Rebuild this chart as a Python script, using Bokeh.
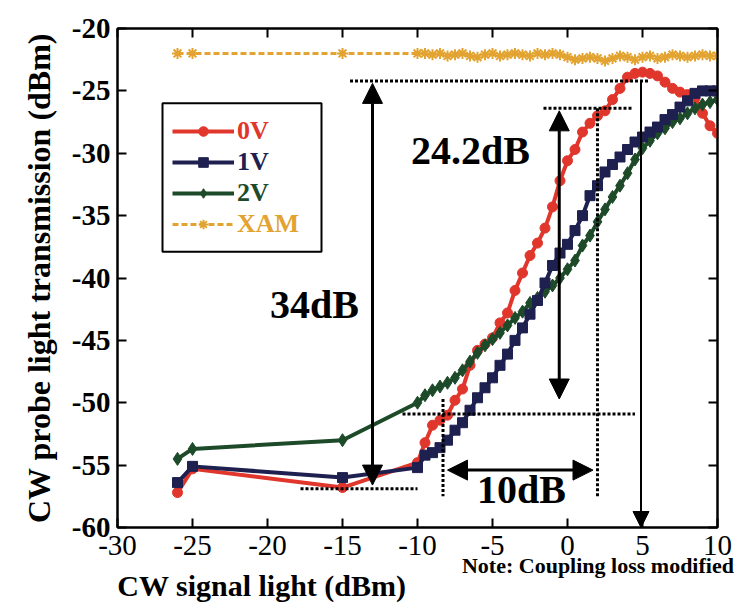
from bokeh.plotting import figure
from bokeh.models import (Legend, LegendItem, LinearAxis, Label, Arrow, NormalHead,
                          BoxAnnotation, FixedTicker, CustomJSTickFormatter, ColumnDataSource)
from bokeh.embed import file_html
from bokeh.resources import INLINE

# ---------------- data ----------------
signal_dbm = [-26, -25, -15, -10, -9.5, -9, -8.5, -8, -7.5, -7, -6.5, -6, -5.5, -5, -4.5, -4,
              -3.5, -3, -2.5, -2, -1.5, -1, -0.5, 0, 0.5, 1, 1.5, 2, 2.5, 3, 3.5, 4, 4.5, 5,
              5.5, 6, 6.5, 7, 7.5, 8, 8.5, 9, 9.5, 10]

probe_0v = [-57.2, -55.3, -56.8, -54.8, -53.2, -51.8, -51.4, -51.0, -49.8, -48.9, -47.0, -45.8,
            -45.3, -44.8, -43.6, -42.8, -41.0, -39.6, -38.2, -37.2, -36.0, -34.3, -32.2, -30.6,
            -29.7, -28.3, -27.6, -27.0, -26.6, -25.7, -24.8, -23.9, -23.6, -23.5, -23.6, -23.8,
            -24.3, -24.8, -25.1, -25.3, -25.6, -26.8, -27.8, -28.4]

probe_1v = [-56.4, -55.1, -56.0, -55.2, -54.2, -54.0, -53.6, -53.0, -52.2, -51.6, -50.6, -49.6,
            -48.8, -48.0, -47.0, -46.1, -45.0, -44.0, -42.9, -41.8, -40.4, -39.0, -38.0, -37.3,
            -36.2, -35.0, -33.4, -32.6, -31.5, -30.9, -30.3, -29.7, -29.1, -28.7, -28.3, -27.9,
            -27.3, -26.9, -26.3, -25.8, -25.2, -25.0, -25.0, -25.0]

probe_2v = [-54.5, -53.7, -53.0, -50.0, -49.4, -49.0, -48.7, -48.4, -48.0, -47.4, -46.7, -46.0,
            -45.4, -44.9, -44.4, -43.8, -43.2, -42.7, -42.0, -41.6, -41.1, -40.6, -40.0, -39.3,
            -38.6, -37.4, -36.6, -35.5, -34.5, -33.5, -32.6, -31.6, -30.5, -29.6, -29.0, -28.4,
            -28.0, -27.5, -27.2, -26.8, -26.4, -26.1, -25.9, -25.7]

probe_xam = [-22.0, -22.0, -22.0, -22.0, -22.0, -22.1, -22.0, -22.2, -22.1, -22.0, -22.2, -22.3,
             -22.1, -22.0, -22.2, -22.1, -22.0, -22.1, -22.2, -22.0, -22.1, -22.0, -22.1, -22.3,
             -22.5, -22.4, -22.3, -22.4, -22.6, -22.4, -22.2, -22.3, -22.5, -22.3, -22.2, -22.4,
             -22.3, -22.1, -22.2, -22.3, -22.2, -22.1, -22.2, -22.2]

x_ticks = [-30, -25, -20, -15, -10, -5, 0, 5, 10]
y_ticks = [-60, -55, -50, -45, -40, -35, -30, -25, -20]

x_title = "CW signal light (dBm)"
y_title = "CW probe light transmission (dBm)"
note_text = "Note: Coupling loss modified"

# annotation geometry (dB values)
dotted_x0 = [-14.5, -1.6, -17.8, -11.0, -8.3, 2.0]
dotted_x1 = [5.5, 4.4, -10.0, 4.5, -8.3, 2.0]
dotted_y0 = [-24.2, -26.4, -56.9, -50.9, -49.7, -26.4]
dotted_y1 = [-24.2, -26.4, -56.9, -50.9, -57.5, -57.6]

SERIF = "Liberation Serif"
RED, NAVY, GREEN, ORANGE = "#e0362c", "#1e2050", "#1d4a29", "#e2a330"

p = figure(width=734, height=611, x_range=(-30, 10), y_range=(-60, -20),
           output_backend="svg", toolbar_location=None,
           min_border_left=117, min_border_right=17, min_border_top=28, min_border_bottom=84)
p.background_fill_color = "white"
p.border_fill_color = "white"
p.grid.visible = False
p.outline_line_color = "black"
p.outline_line_width = 2

plain_fmt = CustomJSTickFormatter(code="return tick.toString()")

def style_axis(ax, ticks, labels=True, bold=False, size="29px"):
    ax.ticker = FixedTicker(ticks=ticks, minor_ticks=[])
    ax.major_tick_in = 9
    ax.major_tick_out = 0
    ax.minor_tick_in = 0
    ax.minor_tick_out = 0
    ax.axis_line_color = "black"
    ax.axis_line_width = 2
    ax.major_tick_line_color = "black"
    ax.major_tick_line_width = 2
    ax.major_label_text_font = SERIF
    ax.major_label_text_color = "black"
    ax.major_label_text_font_size = size
    ax.major_label_text_font_style = "bold" if bold else "normal"
    if labels:
        ax.formatter = plain_fmt
    else:
        ax.formatter = CustomJSTickFormatter(code="return ''")
        ax.major_label_text_font_size = "1px"
        ax.major_label_standoff = 0

xb = p.below[0]
yl = p.left[0]
style_axis(xb, x_ticks, size="29px")
xb.major_label_standoff = 8
style_axis(yl, y_ticks, bold=True, size="29px")
yl.major_label_standoff = 7
yl.axis_label = y_title
yl.axis_label_text_font = SERIF
yl.axis_label_text_font_style = "bold"
yl.axis_label_text_font_size = "32px"
yl.axis_label_text_color = "black"
yl.axis_label_standoff = 12

xt = LinearAxis()
style_axis(xt, x_ticks, labels=False)
p.add_layout(xt, "above")
yr = LinearAxis()
style_axis(yr, y_ticks, labels=False)
p.add_layout(yr, "right")

# text rows below the axis (note, then axis title), carried by label-only axes
def text_axis(text, at, size, standoff):
    ax = LinearAxis(ticker=FixedTicker(ticks=[at], minor_ticks=[]),
                    formatter=CustomJSTickFormatter(code="return %r" % text))
    ax.axis_line_alpha = 0
    ax.major_tick_in = 0
    ax.major_tick_out = 0
    ax.minor_tick_in = 0
    ax.minor_tick_out = 0
    ax.major_label_text_font = SERIF
    ax.major_label_text_font_style = "bold"
    ax.major_label_text_font_size = size
    ax.major_label_text_color = "black"
    ax.major_label_standoff = standoff
    p.add_layout(ax, "below")

text_axis(note_text, 2.03, "22px", -5)
text_axis(x_title, -20.37, "30px", -12)

# ---------------- series ----------------
src = ColumnDataSource(dict(x=signal_dbm, v0=probe_0v, v1=probe_1v, v2=probe_2v, xam=probe_xam))

xam_l = p.line("x", "xam", source=src, line_color=ORANGE, line_width=3, line_dash="6 3")
xam_s = p.scatter("x", "xam", source=src, marker="asterisk", size=11, line_color=ORANGE, line_width=2)
r0_l = p.line("x", "v0", source=src, line_color=RED, line_width=4)
r0_s = p.scatter("x", "v0", source=src, marker="circle", size=10, fill_color=RED, line_color=RED)
g_l = p.line("x", "v2", source=src, line_color=GREEN, line_width=4)
g_s = p.scatter("x", "v2", source=src, marker="diamond", size=13, fill_color=GREEN, line_color=GREEN)
b_l = p.line("x", "v1", source=src, line_color=NAVY, line_width=4)
b_s = p.scatter("x", "v1", source=src, marker="square", size=10, fill_color=NAVY, line_color=NAVY)

# ---------------- dotted guide lines ----------------
p.segment(x0=dotted_x0, y0=dotted_y0, x1=dotted_x1, y1=dotted_y1,
          line_color="black", line_width=3, line_dash="3 2")

# ---------------- arrows ----------------
def head(sz):
    return NormalHead(size=sz, fill_color="black", line_color="black")

p.add_layout(Arrow(x_start=-13.0, y_start=-24.4, x_end=-13.0, y_end=-56.6,
                   start=head(20), end=head(20), line_width=3, line_color="black"))
p.add_layout(Arrow(x_start=4.9, y_start=-24.2, x_end=4.9, y_end=-60.0,
                   end=head(16), line_width=2, line_color="black"))
p.add_layout(Arrow(x_start=-0.55, y_start=-26.6, x_end=-0.55, y_end=-49.7,
                   start=head(20), end=head(20), line_width=3, line_color="black"))
p.add_layout(Arrow(x_start=-8.0, y_start=-55.4, x_end=1.7, y_end=-55.4,
                   start=head(20), end=head(20), line_width=3, line_color="black"))

def big_label(x, y, text, size="40px", align="center"):
    p.add_layout(Label(x=x, y=y, text=text, text_font=SERIF, text_font_style="bold",
                       text_font_size=size, text_align=align, text_baseline="alphabetic",
                       text_color="black"))

big_label(-16.87, -42.13, "34dB")
big_label(-6.47, -29.76, "24.2dB")
big_label(-3.07, -56.96, "10dB")

# ---------------- legend ----------------
p.add_layout(BoxAnnotation(left=-27.0, right=-16.4, top=-26.0, bottom=-37.9,
                           fill_color="white", fill_alpha=1.0,
                           line_color="black", line_width=2, line_alpha=1.0))

legend_rows = [("0V", [r0_l, r0_s], RED, 381), ("1V", [b_l, b_s], NAVY, 350),
               ("2V", [g_l, g_s], GREEN, 319), ("XAM", [xam_l, xam_s], ORANGE, 288)]
for lab, rends, col, vy in legend_rows:
    lg = Legend(items=[LegendItem(label=lab, renderers=rends)], location=(55, vy),
                glyph_width=62, glyph_height=24, label_standoff=3, padding=0, margin=0,
                spacing=0, border_line_alpha=0, background_fill_alpha=0,
                label_text_font=SERIF, label_text_font_style="bold",
                label_text_font_size="26px", label_text_color=col)
    p.add_layout(lg)

open("out.html", "w").write(file_html(p, INLINE))
